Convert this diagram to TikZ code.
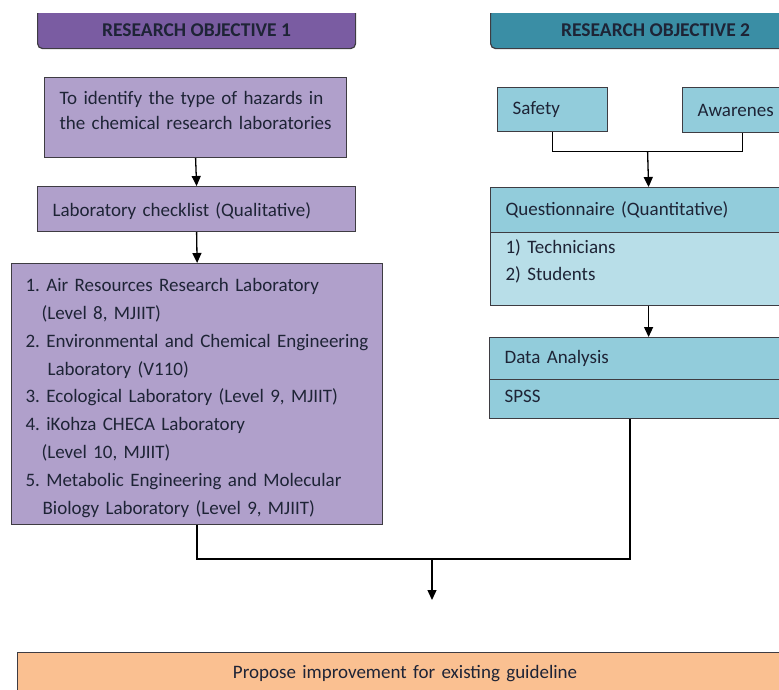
\documentclass[tikz,border=0pt]{standalone}
\usepackage{fontspec}
\setmainfont{Carlito}
\usetikzlibrary{calc,arrows.meta}

\definecolor{objpurple}{RGB}{122,92,162}
\definecolor{labpurple}{RGB}{176,160,203}
\definecolor{objteal}{RGB}{58,142,165}
\definecolor{boxteal}{RGB}{146,204,219}
\definecolor{paleteal}{RGB}{184,222,232}
\definecolor{peach}{RGB}{250,192,145}
\definecolor{inkgrey}{RGB}{62,60,66}
\definecolor{textblue}{RGB}{30,36,54}

\tikzset{
  box/.style={draw=inkgrey,line width=1.2pt,rectangle,anchor=north west,
    inner ysep=0pt,inner xsep=15pt,text=textblue,align=left,
    font=\fontsize{19}{27}\selectfont},
  objbox/.style={box,rounded corners=5pt,align=center,inner xsep=0pt,
    minimum width=318pt,minimum height=40pt,text height=15pt,text depth=0pt,
    font=\bfseries\fontsize{19.5}{22}\selectfont},
  link/.style={line width=1.3pt,black},
  arrow/.style={link,-{Triangle[length=10pt,width=9pt]}}
}

\begin{document}
\frenchspacing
\begin{tikzpicture}[x=1pt,y=-1pt]
  \useasboundingbox (0,0) rectangle (779,689);
  \clip (0,13) rectangle (779,689);

  % objective 1
  \node[objbox,fill=objpurple] (obj1) at (37,8) {RESEARCH OBJECTIVE 1};
  \node[box,fill=labpurple,minimum width=302pt,minimum height=80pt,text width=272pt,
    text depth=40pt,font=\fontsize{19}{25}\selectfont] (aim) at (44,77)
    {\mbox{To identify the type of hazards in}\\\mbox{the chemical research laboratories}};
  \node[box,fill=labpurple,minimum width=318pt,minimum height=45pt,text width=288pt,
    text depth=0pt] (checklist) at (37,186) {Laboratory checklist (Qualitative)};
  \node[box,fill=labpurple,inner xsep=14pt,minimum width=371pt,minimum height=261pt,
    text width=343pt,text depth=218pt,font=\fontsize{19}{27.8}\selectfont] (labs) at (11,263)
    {\mbox{1. Air Resources Research Laboratory}\\
     \hspace*{16pt}(Level 8, MJIIT)\\
     \mbox{2. Environmental and Chemical Engineering}\\
     \hspace*{22pt}Laboratory (V110)\\
     \mbox{3. Ecological Laboratory (Level 9, MJIIT)}\\
     \mbox{4. iKohza CHECA Laboratory}\\
     \hspace*{16pt}(Level 10, MJIIT)\\
     \mbox{5. Metabolic Engineering and Molecular}\\
     \hspace*{17pt}\mbox{Biology Laboratory (Level 9, MJIIT)}};

  % objective 2
  \node[objbox,fill=objteal,minimum width=330pt] (obj2) at (490,8) {RESEARCH OBJECTIVE 2};
  \node[box,fill=boxteal,minimum width=110pt,minimum height=44pt,text width=80pt]
    (safety) at (497,87) {Safety};
  \node[box,fill=boxteal,minimum width=120pt,minimum height=45pt,text width=90pt,
    text depth=0pt] (aware) at (682,87) {Awarenes};
  \node[box,fill=boxteal,minimum width=316pt,minimum height=45pt,text width=286pt]
    (qhead) at (490,187) {Questionnaire (Quantitative)};
  \node[box,fill=paleteal,minimum width=316pt,minimum height=73pt,text width=286pt,
    text depth=46pt] (qbody) at (490,232) {1) Technicians\\2) Students};
  \node[box,fill=boxteal,minimum width=318pt,minimum height=42pt,text width=288pt]
    (data) at (489,337) {Data Analysis};
  \node[box,fill=boxteal,minimum width=318pt,minimum height=39pt,text width=288pt,
    text depth=6pt] (spss) at (489,379) {SPSS};

  \node[box,fill=peach,align=center,inner xsep=0pt,minimum width=775pt,minimum height=42pt,
    text width=775pt] (propose) at (17,652) {Propose improvement for existing guideline};

  % connectors
  \draw[arrow] (aim.south) -- (checklist.north);
  \draw[arrow] (checklist.south) -- (labs.north);

  \coordinate (qjoin) at ($(safety.south)!0.5!(aware.south) + (0,19)$);
  \draw[link] (safety.south) |- (qjoin) -| (aware.south);
  \draw[arrow] (qjoin) -- (qhead.north);
  \draw[arrow] (qbody.south) -- (data.north);

  \coordinate (mleft) at (labs.south |- 0,559);
  \coordinate (mright) at (630,559);
  \coordinate (mdown) at (432,559);
  \coordinate (mtip) at (432,600);
  \draw[link] (labs.south) -- (mleft) -- (mright) -- (mright |- spss.south);
  \draw[arrow] (mdown) -- (mtip);
\end{tikzpicture}
\end{document}
